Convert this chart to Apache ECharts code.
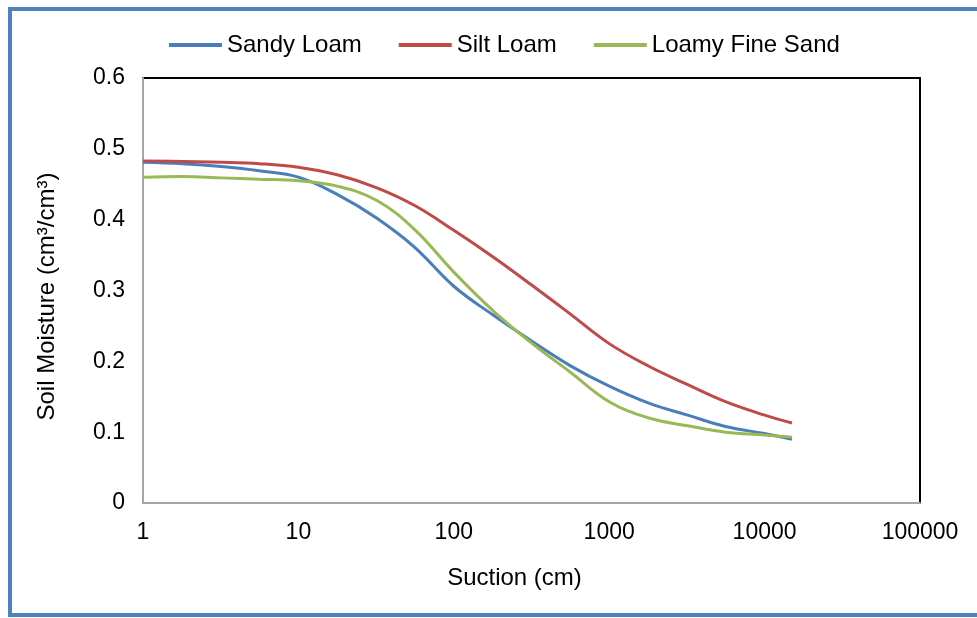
<!DOCTYPE html>
<html>
<head>
<meta charset="utf-8">
<script src="https://cdn.jsdelivr.net/npm/echarts@6/dist/echarts.min.js"></script>
<style>
  html, body { margin: 0; padding: 0; background: #fff; }
  #chart { width: 977px; height: 618px; }
</style>
</head>
<body>
<div id="chart"></div>
<script>
// Suction (cm) sampling points, roughly even steps on the log scale
const suction = [1, 1.8, 3.2, 5.6, 10, 18, 32, 56, 100, 180, 320, 560, 1000, 1800, 3200, 5600, 10000, 15000];

// Volumetric soil moisture (cm3/cm3) at each suction value
const sandyLoam = [0.481, 0.479, 0.475, 0.469, 0.460, 0.435, 0.402, 0.361, 0.306, 0.265, 0.228, 0.194, 0.165, 0.141, 0.124, 0.108, 0.098, 0.090];
const siltLoam = [0.483, 0.482, 0.481, 0.479, 0.474, 0.463, 0.445, 0.420, 0.385, 0.347, 0.307, 0.267, 0.225, 0.193, 0.167, 0.143, 0.124, 0.113];
const loamyFineSand = [0.460, 0.461, 0.459, 0.457, 0.455, 0.447, 0.427, 0.386, 0.326, 0.271, 0.225, 0.185, 0.143, 0.120, 0.109, 0.100, 0.096, 0.093];

// Tick values printed on the logarithmic suction axis
const suctionTicks = [1, 10, 100, 1000, 10000, 100000];

const seriesNames = ['Sandy Loam', 'Silt Loam', 'Loamy Fine Sand'];
const seriesColors = ['#4A7EBB', '#BE4B48', '#98B954'];
const seriesValues = [sandyLoam, siltLoam, loamyFineSand];

const FONT = '"Liberation Sans", Arial, sans-serif';
const FS = 23;
const FS_TITLE = 24;

const chart = echarts.init(document.getElementById('chart'), null, { renderer: 'canvas' });

chart.setOption({
  backgroundColor: '#ffffff',
  animation: false,
  textStyle: { fontFamily: FONT, color: '#000' },
  graphic: [{
    type: 'rect',
    shape: { x: 10, y: 9, width: 1000, height: 606 },
    style: { fill: 'none', stroke: '#4F81BD', lineWidth: 4 },
    silent: true,
    z: 100
  }],
  legend: {
    left: 169,
    top: 33,
    padding: 0,
    icon: 'rect',
    itemWidth: 53,
    itemHeight: 4,
    itemGap: 37,
    textStyle: { fontFamily: FONT, fontSize: FS_TITLE, color: '#000' },
    data: seriesNames
  },
  grid: {
    left: 143,
    right: 57,
    top: 78,
    bottom: 115,
    show: true,
    borderColor: '#000',
    borderWidth: 2,
    backgroundColor: 'transparent'
  },
  xAxis: {
    type: 'log',
    logBase: 10,
    min: suctionTicks[0],
    max: suctionTicks[suctionTicks.length - 1],
    name: 'Suction (cm)',
    nameLocation: 'middle',
    nameGap: 63,
    nameTextStyle: { fontFamily: FONT, fontSize: FS_TITLE, color: '#000', padding: [0, 34, 0, 0] },
    axisLine: { show: true, lineStyle: { color: '#A6A6A6', width: 2 } },
    axisTick: { show: false },
    splitLine: { show: false },
    minorTick: { show: false },
    axisLabel: {
      fontFamily: FONT, fontSize: FS, color: '#000', margin: 18,
      formatter: v => String(Math.round(v))
    }
  },
  yAxis: {
    type: 'value',
    min: 0,
    max: 0.6,
    interval: 0.1,
    name: 'Soil Moisture (cm\u00B3/cm\u00B3)',
    nameLocation: 'middle',
    nameGap: 84,
    nameTextStyle: { fontFamily: FONT, fontSize: FS_TITLE, color: '#000', padding: [0, 12, 0, 0] },
    axisLine: { show: true, lineStyle: { color: '#A6A6A6', width: 2 } },
    axisTick: { show: false },
    splitLine: { show: false },
    axisLabel: {
      fontFamily: FONT, fontSize: FS, color: '#000', margin: 18,
      formatter: v => String(Math.round(v * 10) / 10)
    }
  },
  series: seriesNames.map((name, i) => ({
    name: name,
    type: 'line',
    smooth: 0.4,
    showSymbol: false,
    symbol: 'none',
    color: seriesColors[i],
    lineStyle: { width: 3, color: seriesColors[i] },
    data: suction.map((s, j) => [s, seriesValues[i][j]])
  }))
});
</script>
</body>
</html>
